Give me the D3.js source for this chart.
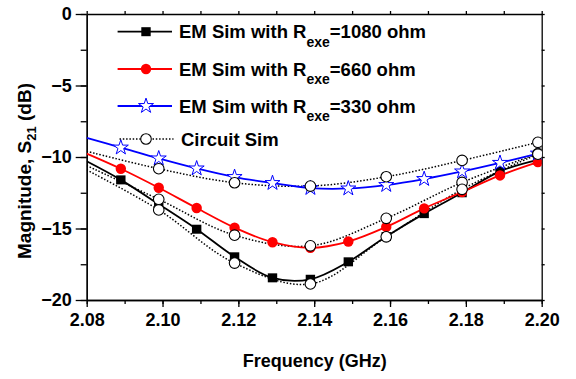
<!DOCTYPE html>
<html>
<head>
<meta charset="utf-8">
<script src="https://cdn.jsdelivr.net/npm/d3@7"></script>
<style>
  body { margin: 0; background: #fff; }
  text { font-family: "Liberation Sans", Arial, sans-serif; font-weight: bold; }
</style>
</head>
<body>
<script>
// frequency points (GHz)
const freq = [2.08, 2.089, 2.099, 2.109, 2.119, 2.129, 2.139, 2.149, 2.159, 2.169, 2.179, 2.189, 2.199];

// EM sim series (dB)
const em1080 = [-10.3, -11.6, -13.3, -15.05, -16.98, -18.45, -18.55, -17.33, -15.56, -13.96, -12.5, -11.0, -10.2];
const em660  = [-9.76, -10.82, -12.15, -13.57, -14.94, -15.96, -16.35, -15.91, -14.89, -13.59, -12.45, -11.29, -10.36];
const em330  = [-8.66, -9.34, -10.1, -10.8, -11.4, -11.82, -12.17, -12.2, -11.96, -11.54, -11.01, -10.41, -9.76];

// circuit sim series (dB)
const circFreq = [2.08, 2.099, 2.119, 2.139, 2.159, 2.179, 2.199];
const circA = [-9.6, -10.82, -11.8, -12.03, -11.38, -10.24, -8.97];
const circB = [-10.6, -12.96, -15.47, -16.21, -14.29, -11.78, -9.76];
const circC = [-10.9, -13.7, -17.42, -18.88, -15.58, -12.26, -9.8];

const legendLabels = [
  { main: "EM Sim with R", sub: "exe", tail: "=1080 ohm" },
  { main: "EM Sim with R", sub: "exe", tail: "=660 ohm" },
  { main: "EM Sim with R", sub: "exe", tail: "=330 ohm" },
  { main: "Circuit Sim" }
];

const xTicks = [2.08, 2.10, 2.12, 2.14, 2.16, 2.18, 2.20];
const yTicks = [0, -5, -10, -15, -20];

const width = 576, height = 379;
const margin = { left: 86.7, right: 34.3, top: 14, bottom: 79 };

const x = d3.scaleLinear().domain([2.08, 2.20]).range([margin.left, width - margin.right]);
const y = d3.scaleLinear().domain([-20, 0]).range([height - margin.bottom, margin.top]);

const svg = d3.select("body").append("svg")
  .attr("width", width)
  .attr("height", height);

svg.append("defs").append("clipPath").attr("id", "plot")
  .append("rect")
  .attr("x", margin.left).attr("y", margin.top)
  .attr("width", x.range()[1] - margin.left)
  .attr("height", y.range()[0] - margin.top);

// axes
const minorX = d3.range(2.08, 2.2001, 0.01);
const minorY = d3.range(-20, 0.001, 2.5);

svg.append("g")
  .attr("transform", `translate(0,${y(-20)})`)
  .call(d3.axisBottom(x).tickValues(minorX).tickFormat("").tickSize(4).tickSizeOuter(0));
svg.append("g")
  .attr("transform", `translate(0,${y(-20)})`)
  .call(d3.axisBottom(x).tickValues(xTicks).tickFormat(d3.format(".2f")).tickSize(7).tickSizeOuter(0).tickPadding(6))
  .call(g => g.selectAll("text").attr("font-size", 18).attr("fill", "#000"));
svg.append("g")
  .attr("transform", `translate(0,${y(0)})`)
  .call(d3.axisTop(x).tickValues(minorX).tickFormat("").tickSize(3).tickSizeOuter(0));
svg.append("g")
  .attr("transform", `translate(${x(2.08)},0)`)
  .call(d3.axisLeft(y).tickValues(minorY).tickFormat("").tickSize(6).tickSizeOuter(0));
svg.append("g")
  .attr("transform", `translate(${x(2.08)},0)`)
  .call(d3.axisLeft(y).tickValues(yTicks).tickFormat(d3.format("d")).tickSize(11).tickSizeOuter(0).tickPadding(4))
  .call(g => g.selectAll("text").attr("font-size", 18).attr("fill", "#000"));
svg.append("g")
  .attr("transform", `translate(${x(2.20)},0)`)
  .call(d3.axisRight(y).tickValues(minorY).tickFormat("").tickSize(3).tickSizeOuter(0));

svg.selectAll(".domain, .tick line").attr("stroke", "#000").attr("stroke-width", 1.3);

// axis titles
svg.append("text")
  .attr("x", 314.7).attr("y", 367)
  .attr("text-anchor", "middle").attr("font-size", 18)
  .text("Frequency (GHz)");

const yl = svg.append("text")
  .attr("transform", `translate(30.5,${(y(0) + y(-20)) / 2 + 14}) rotate(-90)`)
  .attr("text-anchor", "middle").attr("font-size", 19);
yl.append("tspan").text("Magnitude,  S");
yl.append("tspan").attr("font-size", 13).attr("dy", 5).text("21");
yl.append("tspan").attr("dy", -5).text(" (dB)");

// lines
const plot = svg.append("g").attr("clip-path", "url(#plot)");
const line = d3.line().x(d => x(d[0])).y(d => y(d[1])).curve(d3.curveCatmullRom);

const circSeries = [circA, circB, circC];
circSeries.forEach(vals => {
  plot.append("path")
    .datum(circFreq.map((f, i) => [f, vals[i]]))
    .attr("fill", "none").attr("stroke", "#000").attr("stroke-width", 1.5)
    .attr("stroke-dasharray", "1.5,1.8")
    .attr("d", line);
});

const emSeries = [
  { vals: em1080, color: "#000", shape: "square" },
  { vals: em660, color: "#ff0000", shape: "circle" },
  { vals: em330, color: "#0000ff", shape: "star" }
];

emSeries.forEach(s => {
  plot.append("path")
    .datum(freq.map((f, i) => [f, s.vals[i]]))
    .attr("fill", "none").attr("stroke", s.color).attr("stroke-width", 1.8)
    .attr("d", line);
});

function drawMarker(g, shape, color, cx, cy) {
  if (shape === "square") {
    g.append("rect").attr("x", cx - 4.7).attr("y", cy - 4.5).attr("width", 9.4).attr("height", 9).attr("fill", color);
  } else if (shape === "circle") {
    g.append("circle").attr("cx", cx).attr("cy", cy).attr("r", 5.2).attr("fill", color);
  } else if (shape === "star") {
    g.append("path").attr("transform", `translate(${cx},${cy})`)
      .attr("d", d3.symbol(d3.symbolStar, 70)())
      .attr("fill", "#fff").attr("stroke", color).attr("stroke-width", 1);
  } else {
    g.append("circle").attr("cx", cx).attr("cy", cy).attr("r", 5.3)
      .attr("fill", "#fff").attr("stroke", "#000").attr("stroke-width", 1.1);
  }
}

// skip the first point, which sits on the left axis without a marker
emSeries.forEach(s => {
  freq.forEach((f, i) => { if (i > 0) drawMarker(plot, s.shape, s.color, x(f), y(s.vals[i])); });
});
circSeries.forEach(vals => {
  circFreq.forEach((f, i) => { if (i > 0) drawMarker(plot, "open", "#000", x(f), y(vals[i])); });
});

// legend
const legendRows = [
  { color: "#000", shape: "square", dash: null, y: 31.7, x1: 117.6, x2: 172, tx: 179 },
  { color: "#ff0000", shape: "circle", dash: null, y: 69, x1: 117.6, x2: 172, tx: 179 },
  { color: "#0000ff", shape: "star", dash: null, y: 106, x1: 117.6, x2: 172, tx: 179 },
  { color: "#000", shape: "open", dash: "1.5,1.8", y: 139, x1: 119.5, x2: 173.5, tx: 181 }
];
const legend = svg.append("g");
legendRows.forEach((r, i) => {
  legend.append("line")
    .attr("x1", r.x1).attr("x2", r.x2).attr("y1", r.y).attr("y2", r.y)
    .attr("stroke", r.color).attr("stroke-width", r.dash ? 1.5 : 1.8)
    .attr("stroke-dasharray", r.dash);
  drawMarker(legend, r.shape, r.color, 146, r.y);
  const lab = legendLabels[i];
  const t = legend.append("text").attr("x", r.tx).attr("y", r.y + 6.6).attr("font-size", 18.5);
  t.append("tspan").text(lab.main);
  if (lab.sub) {
    t.append("tspan").attr("font-size", 14).attr("dy", 8.5).text(lab.sub);
    t.append("tspan").attr("dy", -8.5).text(lab.tail);
  }
});
</script>
</body>
</html>
